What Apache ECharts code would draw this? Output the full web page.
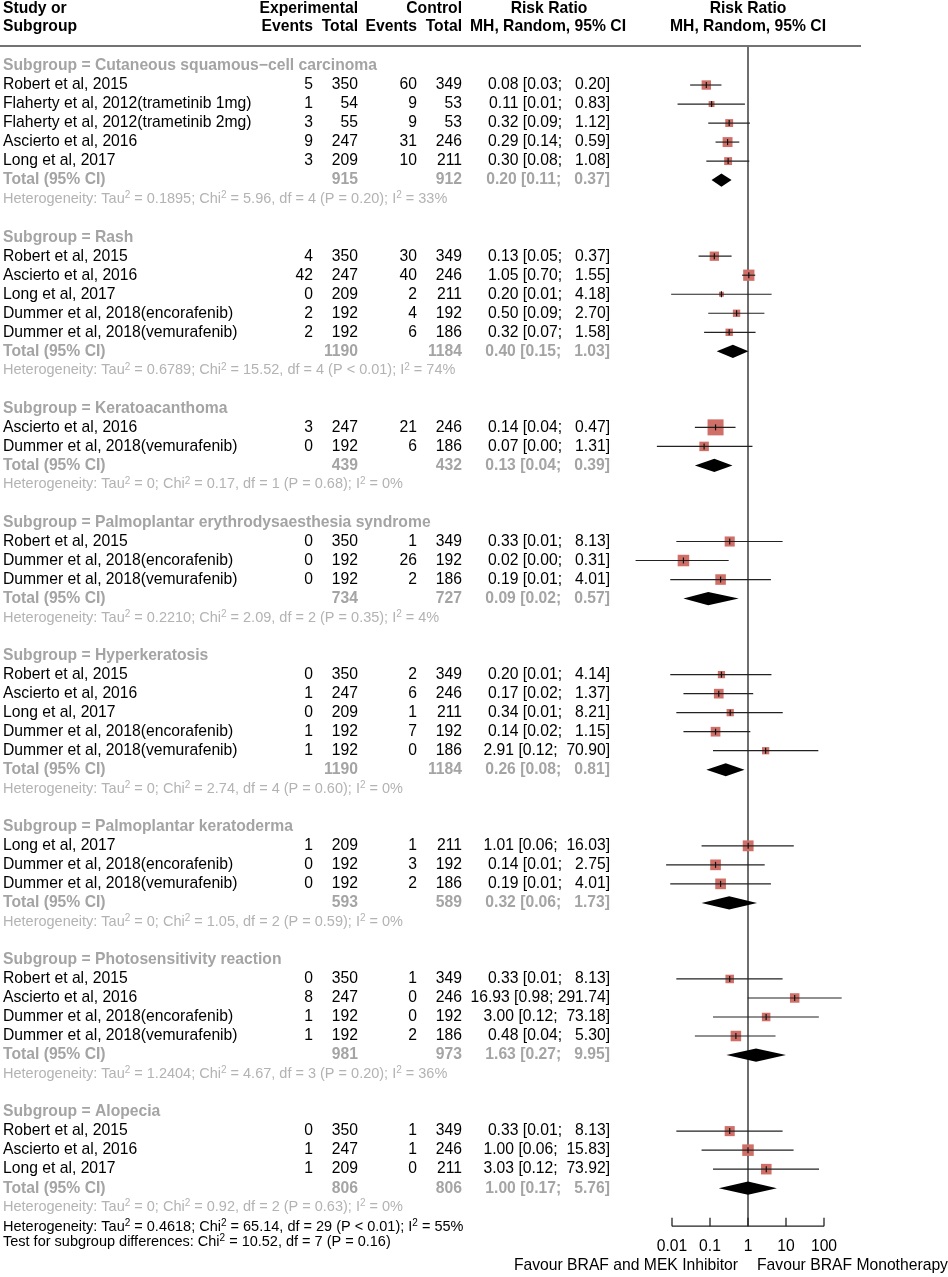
<!DOCTYPE html>
<html><head><meta charset="utf-8">
<script src="https://cdn.jsdelivr.net/npm/echarts@6/dist/echarts.min.js"></script>
<style>html,body{margin:0;padding:0;background:#fff}#chart{width:948px;height:1277px}</style>
</head><body><div id="chart"></div>
<script>
// ---------------- DATA ----------------
const groupNames = ['Cutaneous squamous\u2212cell carcinoma','Rash','Keratoacanthoma','Palmoplantar erythrodysaesthesia syndrome','Hyperkeratosis','Palmoplantar keratoderma','Photosensitivity reaction','Alopecia'];
const studyGroup = [0,0,0,0,0, 1,1,1,1,1, 2,2, 3,3,3, 4,4,4,4,4, 5,5,5, 6,6,6,6, 7,7,7];
const studyNames = [
 'Robert et al, 2015','Flaherty et al, 2012(trametinib 1mg)','Flaherty et al, 2012(trametinib 2mg)','Ascierto et al, 2016','Long et al, 2017',
 'Robert et al, 2015','Ascierto et al, 2016','Long et al, 2017','Dummer et al, 2018(encorafenib)','Dummer et al, 2018(vemurafenib)',
 'Ascierto et al, 2016','Dummer et al, 2018(vemurafenib)',
 'Robert et al, 2015','Dummer et al, 2018(encorafenib)','Dummer et al, 2018(vemurafenib)',
 'Robert et al, 2015','Ascierto et al, 2016','Long et al, 2017','Dummer et al, 2018(encorafenib)','Dummer et al, 2018(vemurafenib)',
 'Long et al, 2017','Dummer et al, 2018(encorafenib)','Dummer et al, 2018(vemurafenib)',
 'Robert et al, 2015','Ascierto et al, 2016','Dummer et al, 2018(encorafenib)','Dummer et al, 2018(vemurafenib)',
 'Robert et al, 2015','Ascierto et al, 2016','Long et al, 2017'];
const expEvents  = [5,1,3,9,3, 4,42,0,2,2, 3,0, 0,0,0, 0,1,0,1,1, 1,0,0, 0,8,1,1, 0,1,1];
const expTotal   = [350,54,55,247,209, 350,247,209,192,192, 247,192, 350,192,192, 350,247,209,192,192, 209,192,192, 350,247,192,192, 350,247,209];
const ctrlEvents = [60,9,9,31,10, 30,40,2,4,6, 21,6, 1,26,2, 2,6,1,7,0, 1,3,2, 1,0,0,2, 1,1,0];
const ctrlTotal  = [349,53,53,246,211, 349,246,211,192,186, 246,186, 349,192,186, 349,246,211,192,186, 211,192,186, 349,246,192,186, 349,246,211];
const rr   = [0.08,0.11,0.32,0.29,0.30, 0.13,1.05,0.20,0.50,0.32, 0.14,0.07, 0.33,0.02,0.19, 0.20,0.17,0.34,0.14,2.91, 1.01,0.14,0.19, 0.33,16.93,3.00,0.48, 0.33,1.00,3.03];
const rrLo = [0.03,0.014,0.09,0.14,0.08, 0.05,0.70,0.0095,0.09,0.07, 0.04,0.004, 0.013,0.0011,0.009, 0.009,0.02,0.013,0.02,0.12, 0.06,0.007,0.009, 0.013,0.98,0.12,0.04, 0.013,0.06,0.12];
const rrHi = [0.20,0.83,1.12,0.59,1.08, 0.37,1.55,4.18,2.70,1.58, 0.47,1.31, 8.13,0.31,4.01, 4.14,1.37,8.21,1.15,70.90, 16.03,2.75,4.01, 8.13,291.74,73.18,5.30, 8.13,15.83,73.92];
const weight = [25.4,10.1,18.0,28.4,18.1, 25.0,36.7,6.9,15.7,15.7, 74,26, 29.3,38.4,32.3, 15.2,27.1,15.2,27.1,15.2, 34,33,33, 21,26,21,32, 29.3,38.4,32.3];

const groupExpTotal  = [915,1190,439,734,1190,593,981,806];
const groupCtrlTotal = [912,1184,432,727,1184,589,973,806];
const groupRR = [0.20,0.40,0.13,0.09,0.26,0.32,1.63,1.00];
const groupLo = [0.11,0.15,0.04,0.02,0.08,0.06,0.27,0.17];
const groupHi = [0.37,1.03,0.39,0.57,0.81,1.73,9.95,5.76];
const hetTau2 = ['0.1895','0.6789','0','0.2210','0','0','1.2404','0'];
const hetChi2 = [5.96,15.52,0.17,2.09,2.74,1.05,4.67,0.92];
const hetDf   = [4,4,1,2,4,2,3,2];
const hetP    = ['= 0.20','< 0.01','= 0.68','= 0.35','= 0.60','= 0.59','= 0.20','= 0.63'];
const hetI2   = [33,74,0,4,0,0,36,0];
const overallHet  = 'Heterogeneity: Tau{s|2} = 0.4618; Chi{s|2} = 65.14, df = 29 (P < 0.01); I{s|2} = 55%';
const subgroupTest = 'Test for subgroup differences: Chi{s|2} = 10.52, df = 7 (P = 0.16)';
const axisTicks  = [0.01, 0.1, 1, 10, 100];
const tickLabels = ['0.01','0.1','1','10','100'];
const favourLeft  = 'Favour BRAF and MEK Inhibitor';
const favourRight = 'Favour BRAF Monotherapy';

// ---------------- LAYOUT ----------------
const FONT = "'Liberation Sans', Arial, Helvetica, sans-serif";
const FS = 15.7, FS_SMALL = 14.5;
const GREY = '#a4a4a4', HETGREY = '#b3b3b3';
const COL = {name:3, expEv:313, expN:358, ctrlEv:417, ctrlN:462, rr:610};
const ROWH = 19.02, ROW0 = 66, YMIN = -3, YMAX = 63;

const rows = [];
let r = 0;
groupNames.forEach((g, gi) => {
  if (gi > 0) r++;
  rows.push({type:'title', idx:r++, g:gi});
  studyGroup.forEach((sg, si) => { if (sg === gi) rows.push({type:'study', idx:r++, s:si}); });
  rows.push({type:'total', idx:r++, g:gi});
  rows.push({type:'het', idx:r++, g:gi});
});
rows.push({type:'overall', idx:r + 0.05, text:overallHet});
rows.push({type:'overall', idx:r + 0.82, text:subgroupTest});
const AXIS_ROW = r;

function txt(x, y, s, opt) {
  return {type:'text', x:x, y:y, silent:true,
    style:Object.assign({text:s, fill:'#000', fontSize:FS, fontFamily:FONT, fontWeight:'normal', align:'left', verticalAlign:'middle'}, opt || {})};
}
function richTxt(x, y, s, color) {
  return {type:'text', x:x, y:y, silent:true,
    style:{text:s, fill:color, fontSize:FS_SMALL, fontFamily:FONT, align:'left', verticalAlign:'middle', lineHeight:17,
      rich:{s:{fontSize:10, fontFamily:FONT, fill:color, verticalAlign:'top', lineHeight:17}}}};
}
function ciStr(v, lo, hi) {
  return v.toFixed(2) + ' [' + lo.toFixed(2) + '; ' + hi.toFixed(2).padStart(6, ' ') + ']';
}
function hetStr(g) {
  return 'Heterogeneity: Tau{s|2} = ' + hetTau2[g] + '; Chi{s|2} = ' + hetChi2[g].toFixed(2) + ', df = ' + hetDf[g] + ' (P ' + hetP[g] + '); I{s|2} = ' + hetI2[g] + '%';
}

function renderRow(params, api) {
  const row = rows[params.dataIndex];
  const y = api.coord([1, row.idx])[1];
  const ch = [];
  const R = {align:'right'};
  if (row.type === 'title') {
    ch.push(txt(COL.name, y, 'Subgroup = ' + groupNames[row.g], {fill:GREY, fontWeight:'bold'}));
  } else if (row.type === 'study') {
    const s = row.s;
    ch.push(txt(COL.name, y, studyNames[s]));
    ch.push(txt(COL.expEv, y, String(expEvents[s]), R));
    ch.push(txt(COL.expN, y, String(expTotal[s]), R));
    ch.push(txt(COL.ctrlEv, y, String(ctrlEvents[s]), R));
    ch.push(txt(COL.ctrlN, y, String(ctrlTotal[s]), R));
    ch.push(txt(COL.rr, y, ciStr(rr[s], rrLo[s], rrHi[s]), R));
    const p = api.coord([rr[s], row.idx]);
    const l = api.coord([rrLo[s], row.idx]);
    const h = api.coord([rrHi[s], row.idx]);
    const sz = 1.86 * Math.sqrt(weight[s]);
    ch.push({type:'rect', shape:{x:p[0]-sz/2, y:y-sz/2, width:sz, height:sz}, style:{fill:'#cf6f67'}});
    ch.push({type:'line', shape:{x1:l[0], y1:y, x2:h[0], y2:y}, style:{stroke:'#222', lineWidth:1.2}});
    ch.push({type:'line', shape:{x1:p[0], y1:y-3, x2:p[0], y2:y+3}, style:{stroke:'#111', lineWidth:1.2}});
  } else if (row.type === 'total') {
    const g = row.g, B = {fill:GREY, fontWeight:'bold'};
    ch.push(txt(COL.name, y, 'Total (95% CI)', B));
    ch.push(txt(COL.expN, y, String(groupExpTotal[g]), Object.assign({align:'right'}, B)));
    ch.push(txt(COL.ctrlN, y, String(groupCtrlTotal[g]), Object.assign({align:'right'}, B)));
    ch.push(txt(COL.rr, y, ciStr(groupRR[g], groupLo[g], groupHi[g]), Object.assign({align:'right'}, B)));
    const p = api.coord([groupRR[g], row.idx]);
    const l = api.coord([groupLo[g], row.idx]);
    const h = api.coord([groupHi[g], row.idx]);
    ch.push({type:'polygon', shape:{points:[[l[0], y], [p[0], y-6.6], [h[0], y], [p[0], y+6.6]]}, style:{fill:'#000'}});
  } else if (row.type === 'het') {
    ch.push(richTxt(COL.name, y, hetStr(row.g), HETGREY));
  } else if (row.type === 'overall') {
    ch.push(richTxt(COL.name, y, row.text, '#000'));
  }
  return {type:'group', children:ch};
}

function renderFrame(params, api) {
  const ch = [];
  const yH1 = api.coord([1, -3])[1];
  const yH2 = api.coord([1, -2.05])[1];
  const yLine = api.coord([1, -1.05])[1];
  const B = {fontWeight:'bold'};
  const BR = {fontWeight:'bold', align:'right'};
  const BC = {fontWeight:'bold', align:'center'};
  ch.push(txt(COL.name, yH1, 'Study or', B));
  ch.push(txt(COL.name, yH2, 'Subgroup', B));
  ch.push(txt(COL.expN, yH1, 'Experimental', BR));
  ch.push(txt(COL.ctrlN, yH1, 'Control', BR));
  ch.push(txt(COL.expEv, yH2, 'Events', BR));
  ch.push(txt(COL.expN, yH2, 'Total', BR));
  ch.push(txt(COL.ctrlEv, yH2, 'Events', BR));
  ch.push(txt(COL.ctrlN, yH2, 'Total', BR));
  ch.push(txt(549, yH1, 'Risk Ratio', BC));
  ch.push(txt(548, yH2, 'MH, Random, 95% CI', BC));
  const x1 = api.coord([1, 0])[0];
  ch.push(txt(x1, yH1, 'Risk Ratio', BC));
  ch.push(txt(x1, yH2, 'MH, Random, 95% CI', BC));
  ch.push({type:'line', shape:{x1:0, y1:yLine, x2:861, y2:yLine}, style:{stroke:'#444', lineWidth:1.6}});
  const yAxisLine = api.coord([1, AXIS_ROW])[1];
  const yTickLab = api.coord([1, AXIS_ROW + 1.05])[1];
  const yFav = api.coord([1, AXIS_ROW + 2.05])[1];
  ch.push({type:'line', shape:{x1:x1, y1:yLine, x2:x1, y2:yAxisLine}, style:{stroke:'#6e6e6e', lineWidth:2}});
  const xa = api.coord([axisTicks[0], 0])[0], xb = api.coord([axisTicks[axisTicks.length-1], 0])[0];
  ch.push({type:'line', shape:{x1:xa, y1:yAxisLine, x2:xb, y2:yAxisLine}, style:{stroke:'#222', lineWidth:1.3}});
  axisTicks.forEach((t, i) => {
    const xt = api.coord([t, 0])[0];
    ch.push({type:'line', shape:{x1:xt, y1:yAxisLine-8.5, x2:xt, y2:yAxisLine}, style:{stroke:'#222', lineWidth:1.3}});
    ch.push(txt(xt, yTickLab, tickLabels[i], {align:'center'}));
  });
  ch.push(txt(x1 - 10, yFav, favourLeft, {align:'right'}));
  ch.push(txt(x1 + 9, yFav, favourRight));
  return {type:'group', children:ch};
}

const chart = echarts.init(document.getElementById('chart'), null, {renderer:'canvas'});
const gridTop = ROW0 + YMIN * ROWH;
const gridBottom = 1277 - (ROW0 + YMAX * ROWH);
chart.setOption({
  animation:false,
  backgroundColor:'#fff',
  grid:{left:634, right:86, top:gridTop, bottom:gridBottom},
  xAxis:{type:'log', logBase:10, min:0.001, max:1000, show:false},
  yAxis:{type:'value', min:YMIN, max:YMAX, inverse:true, show:false},
  series:[
    {type:'custom', clip:false, silent:true, renderItem:renderFrame, data:[[1, 0]]},
    {type:'custom', clip:false, silent:true, renderItem:renderRow, data:rows.map(rw => [1, rw.idx])}
  ]
});
</script>
</body></html>
